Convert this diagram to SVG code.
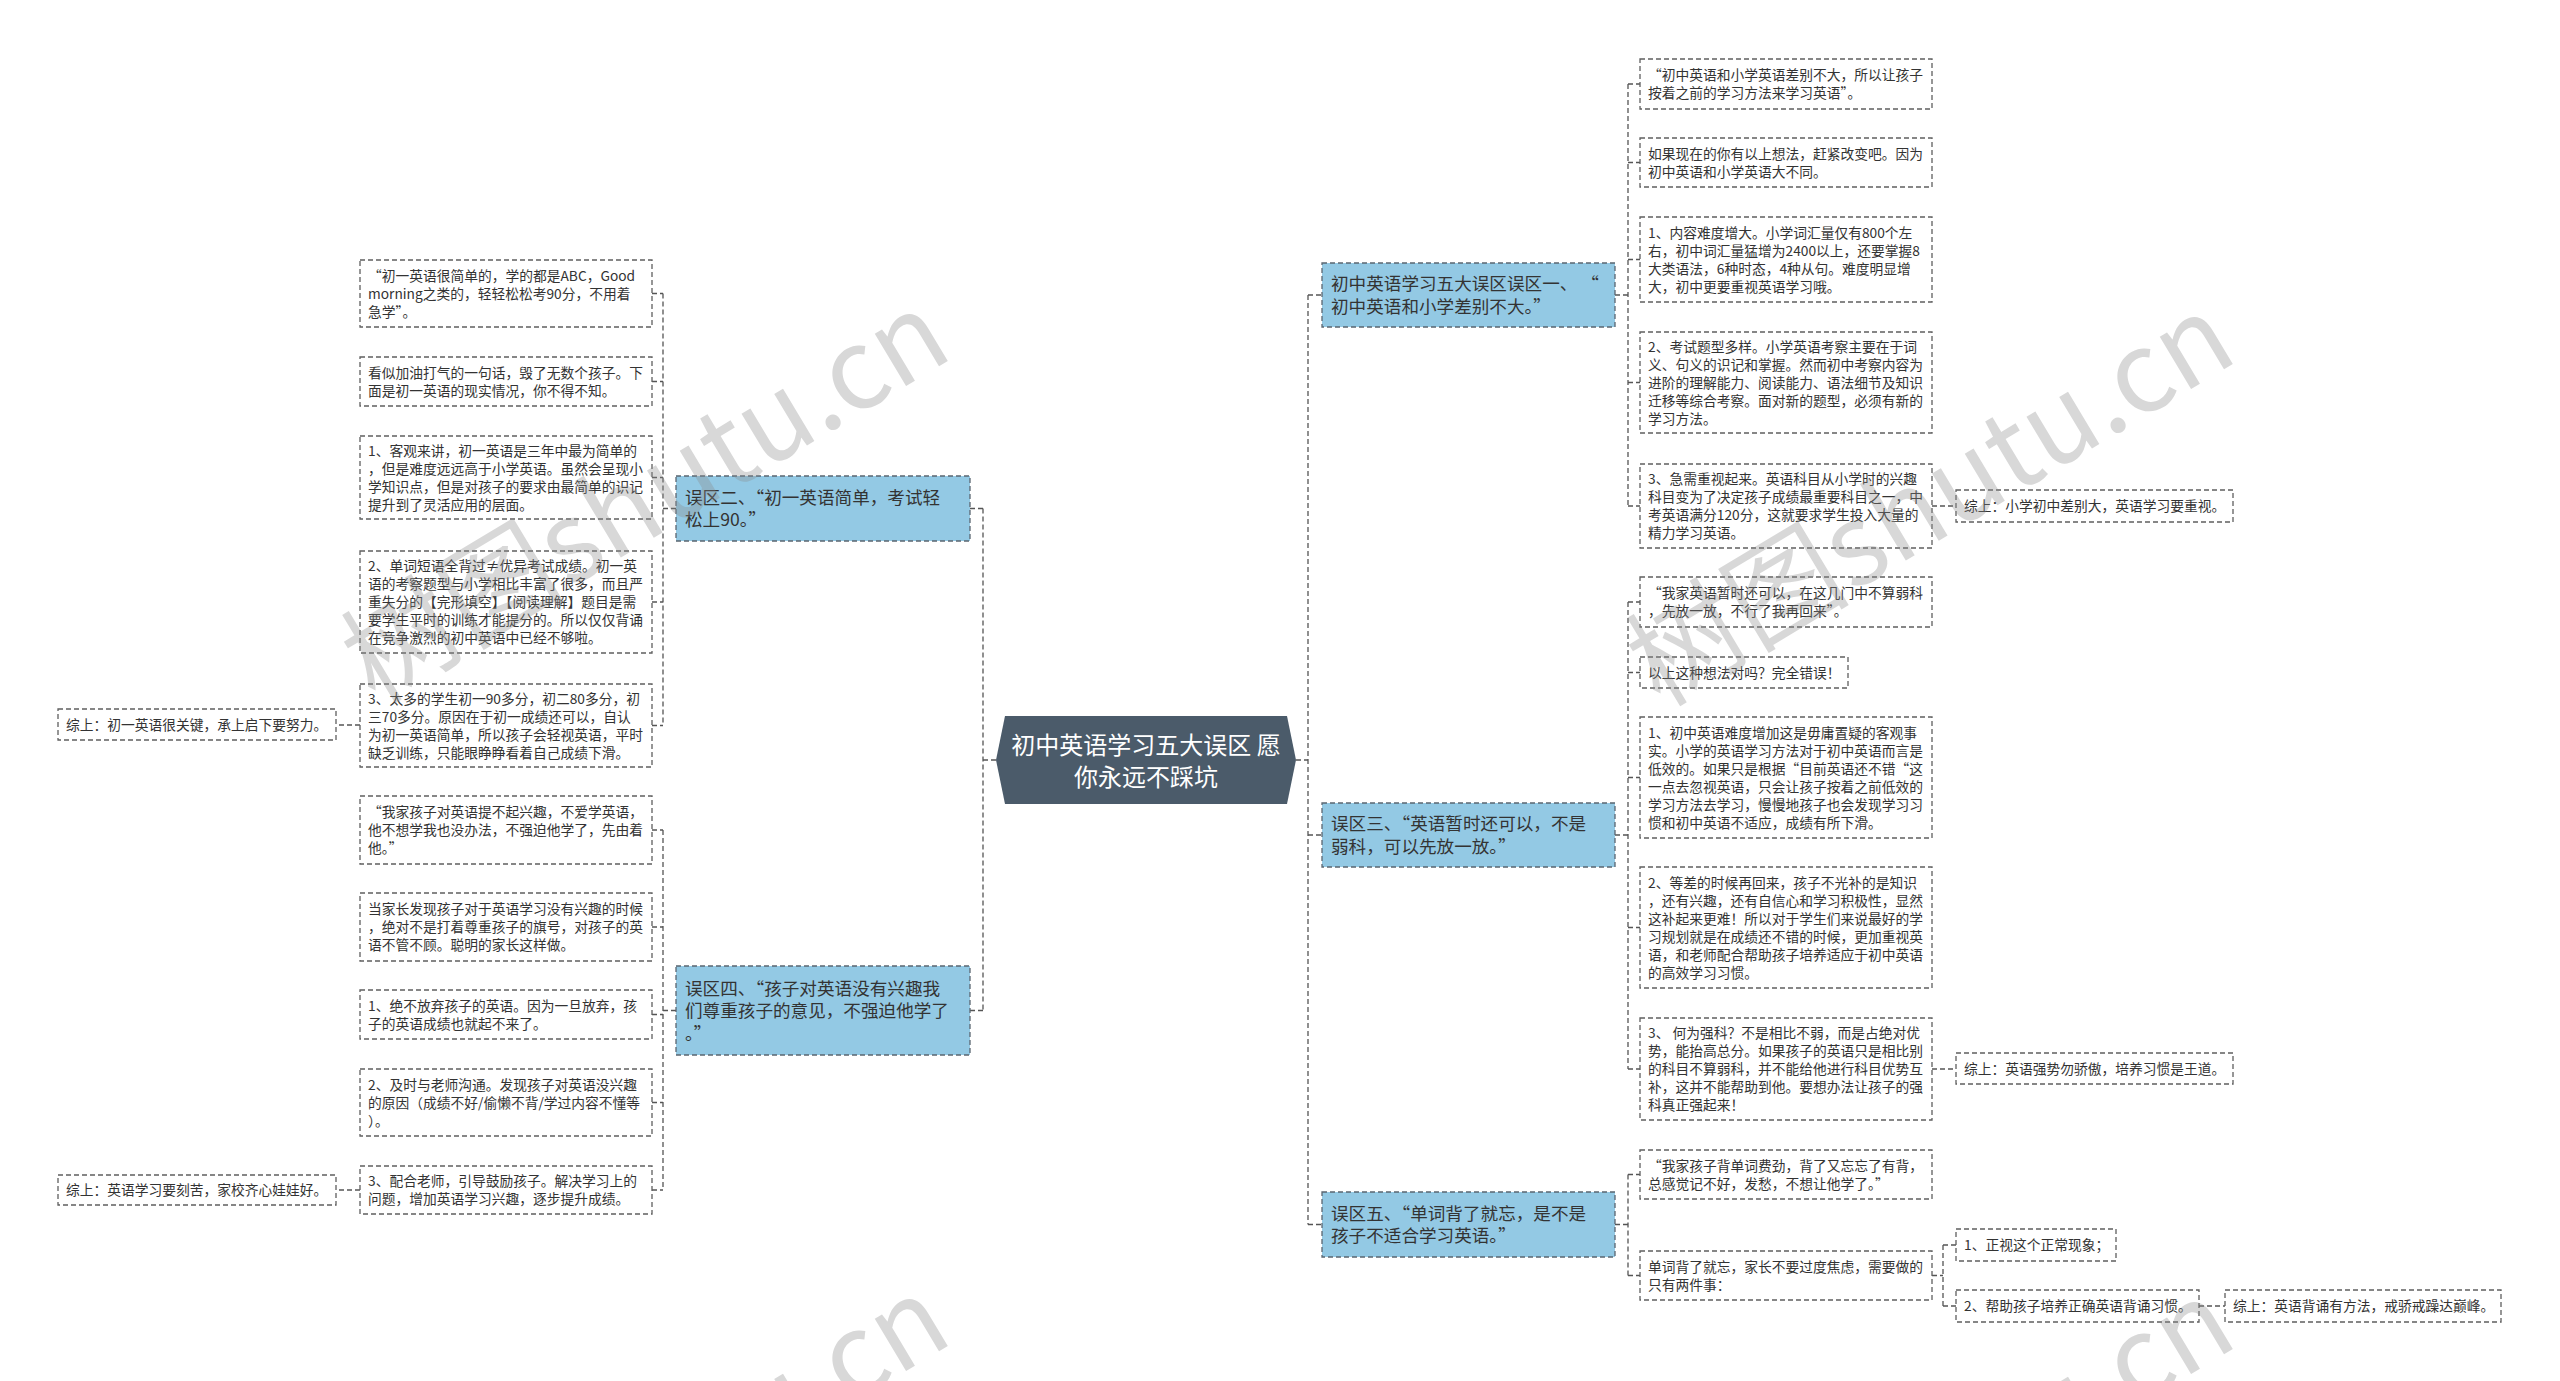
<svg xmlns="http://www.w3.org/2000/svg" width="2560" height="1381" viewBox="0 0 2560 1381">
<style>
.bg{fill:#ffffff}
.leaf rect{fill:#ffffff;stroke:#5f5f5f;stroke-width:1.3;stroke-dasharray:5 3}
.br rect{fill:#93c9e4;stroke:#5a6670;stroke-width:1.3;stroke-dasharray:5 3}
.t{font-family:"Noto Sans CJK SC","Microsoft YaHei",sans-serif;font-size:13.75px;fill:#333333}
.bt{font-family:"Noto Sans CJK SC","Microsoft YaHei",sans-serif;font-size:17.6px;fill:#333333}
.ct{font-family:"Noto Sans CJK SC","Microsoft YaHei",sans-serif;font-size:24px;fill:#ffffff;text-anchor:middle}
.conn path{fill:none;stroke:#555555;stroke-width:1.3;stroke-dasharray:5 3}
.wm{font-family:"Noto Sans CJK SC","Noto Sans",sans-serif;font-size:112px;fill:#8a8a8a;opacity:0.33}
</style>
<rect class="bg" x="0" y="0" width="2560" height="1381"/>

<g id="connectors" class="conn">
<path d="M996,760 H983 M983,508.5 V1010.5 M970,508.5 H983 M970,1010.5 H983"/>
<path d="M676,508.5 H663 M663,293.5 V725.5 M652,293.5 H663 M652,381.5 H663 M652,477.5 H663 M652,602 H663 M652,725.5 H663"/>
<path d="M676,1010.5 H663 M663,830 V1190 M652,830 H663 M652,927 H663 M652,1014.5 H663 M652,1102.5 H663 M652,1190 H663"/>
<path d="M360,725 H336 M360,1190 H336"/>
<path d="M1296,760 H1308 M1308,295 V1224.5 M1308,295 H1322 M1308,835 H1322 M1308,1224.5 H1322"/>
<path d="M1615,295 H1628 M1628,84 V506 M1628,84 H1640 M1628,162.5 H1640 M1628,259.5 H1640 M1628,382.5 H1640 M1628,506 H1640"/>
<path d="M1615,835 H1628 M1628,602 V1069 M1628,602 H1640 M1628,672.5 H1640 M1628,777.5 H1640 M1628,927.5 H1640 M1628,1069 H1640"/>
<path d="M1615,1224.5 H1628 M1628,1174.5 V1275.5 M1628,1174.5 H1640 M1628,1275.5 H1640"/>
<path d="M1932,506 H1956 M1932,1069 H1956"/>
<path d="M1932,1275.5 H1943 M1943,1245 V1306 M1943,1245 H1956 M1943,1306 H1956 M2199,1306 H2225"/>
</g>

<g id="center">
<polygon points="996,760 1005,716 1287,716 1296,760 1287,804 1005,804" fill="#4b5b6a"/>
<text class="ct"><tspan x="1146" y="753.5">初中英语学习五大误区 愿</tspan><tspan x="1146" y="785.5">你永远不踩坑</tspan></text>
</g>

<g id="b2" class="br">
<rect x="676" y="476" width="294" height="65"/>
<text class="bt"><tspan x="685" y="503.75">误区二、“初一英语简单，考试轻</tspan><tspan x="685" y="526.25">松上90。”</tspan></text>
</g>
<g id="b4" class="br">
<rect x="676" y="966" width="294" height="89"/>
<text class="bt"><tspan x="685" y="994.5">误区四、“孩子对英语没有兴趣我</tspan><tspan x="685" y="1017">们尊重孩子的意见，不强迫他学了</tspan><tspan x="685" y="1039.5">。”</tspan></text>
</g>
<g id="b1" class="br">
<rect x="1322" y="263" width="293" height="64"/>
<text class="bt"><tspan x="1331" y="290.25">初中英语学习五大误区误区一、 “</tspan><tspan x="1331" y="312.75">初中英语和小学差别不大。”</tspan></text>
</g>
<g id="b3" class="br">
<rect x="1322" y="803" width="293" height="64"/>
<text class="bt"><tspan x="1331" y="830.25">误区三、“英语暂时还可以，不是</tspan><tspan x="1331" y="852.75">弱科，可以先放一放。”</tspan></text>
</g>
<g id="b5" class="br">
<rect x="1322" y="1192" width="293" height="65"/>
<text class="bt"><tspan x="1331" y="1219.75">误区五、“单词背了就忘，是不是</tspan><tspan x="1331" y="1242.25">孩子不适合学习英语。”</tspan></text>
</g>

<g id="l1" class="leaf">
<rect x="360" y="260" width="292" height="67"/>
<text class="t"><tspan x="368" y="280.5">“初一英语很简单的，学的都是ABC，Good</tspan><tspan x="368" y="298.5">morning之类的，轻轻松松考90分，不用着</tspan><tspan x="368" y="316.5">急学”。</tspan></text>
</g>
<g id="l2" class="leaf">
<rect x="360" y="357" width="292" height="49"/>
<text class="t"><tspan x="368" y="377.5">看似加油打气的一句话，毁了无数个孩子。下</tspan><tspan x="368" y="395.5">面是初一英语的现实情况，你不得不知。</tspan></text>
</g>
<g id="l3" class="leaf">
<rect x="360" y="436" width="292" height="83"/>
<text class="t"><tspan x="368" y="455.5">1、客观来讲，初一英语是三年中最为简单的</tspan><tspan x="368" y="473.5">，但是难度远远高于小学英语。虽然会呈现小</tspan><tspan x="368" y="491.5">学知识点，但是对孩子的要求由最简单的识记</tspan><tspan x="368" y="509.5">提升到了灵活应用的层面。</tspan></text>
</g>
<g id="l4" class="leaf">
<rect x="360" y="551" width="292" height="102"/>
<text class="t"><tspan x="368" y="571">2、单词短语全背过≠优异考试成绩。初一英</tspan><tspan x="368" y="589">语的考察题型与小学相比丰富了很多，而且严</tspan><tspan x="368" y="607">重失分的【完形填空】【阅读理解】题目是需</tspan><tspan x="368" y="625">要学生平时的训练才能提分的。所以仅仅背诵</tspan><tspan x="368" y="643">在竞争激烈的初中英语中已经不够啦。</tspan></text>
</g>
<g id="l5" class="leaf">
<rect x="360" y="684" width="292" height="83"/>
<text class="t"><tspan x="368" y="703.5">3、太多的学生初一90多分，初二80多分，初</tspan><tspan x="368" y="721.5">三70多分。原因在于初一成绩还可以，自认</tspan><tspan x="368" y="739.5">为初一英语简单，所以孩子会轻视英语，平时</tspan><tspan x="368" y="757.5">缺乏训练，只能眼睁睁看着自己成绩下滑。</tspan></text>
</g>
<g id="s1" class="leaf">
<rect x="58" y="709" width="278" height="31"/>
<text class="t"><tspan x="66" y="729.5">综上：初一英语很关键，承上启下要努力。</tspan></text>
</g>
<g id="l6" class="leaf">
<rect x="360" y="796" width="292" height="68"/>
<text class="t"><tspan x="368" y="817">“我家孩子对英语提不起兴趣，不爱学英语，</tspan><tspan x="368" y="835">他不想学我也没办法，不强迫他学了，先由着</tspan><tspan x="368" y="853">他。”</tspan></text>
</g>
<g id="l7" class="leaf">
<rect x="360" y="893" width="292" height="68"/>
<text class="t"><tspan x="368" y="914">当家长发现孩子对于英语学习没有兴趣的时候</tspan><tspan x="368" y="932">，绝对不是打着尊重孩子的旗号，对孩子的英</tspan><tspan x="368" y="950">语不管不顾。聪明的家长这样做。</tspan></text>
</g>
<g id="l8" class="leaf">
<rect x="360" y="990" width="292" height="49"/>
<text class="t"><tspan x="368" y="1010.5">1、绝不放弃孩子的英语。因为一旦放弃，孩</tspan><tspan x="368" y="1028.5">子的英语成绩也就起不来了。</tspan></text>
</g>
<g id="l9" class="leaf">
<rect x="360" y="1069" width="292" height="67"/>
<text class="t"><tspan x="368" y="1089.5">2、及时与老师沟通。发现孩子对英语没兴趣</tspan><tspan x="368" y="1107.5">的原因（成绩不好/偷懒不背/学过内容不懂等</tspan><tspan x="368" y="1125.5">）。</tspan></text>
</g>
<g id="l10" class="leaf">
<rect x="360" y="1166" width="292" height="48"/>
<text class="t"><tspan x="368" y="1186">3、配合老师，引导鼓励孩子。解决学习上的</tspan><tspan x="368" y="1204">问题，增加英语学习兴趣，逐步提升成绩。</tspan></text>
</g>
<g id="s2" class="leaf">
<rect x="58" y="1175" width="278" height="30"/>
<text class="t"><tspan x="66" y="1195">综上：英语学习要刻苦，家校齐心娃娃好。</tspan></text>
</g>

<g id="r1" class="leaf">
<rect x="1640" y="59" width="292" height="50"/>
<text class="t"><tspan x="1648" y="80">“初中英语和小学英语差别不大，所以让孩子</tspan><tspan x="1648" y="98">按着之前的学习方法来学习英语”。</tspan></text>
</g>
<g id="r2" class="leaf">
<rect x="1640" y="138" width="292" height="49"/>
<text class="t"><tspan x="1648" y="158.5">如果现在的你有以上想法，赶紧改变吧。因为</tspan><tspan x="1648" y="176.5">初中英语和小学英语大不同。</tspan></text>
</g>
<g id="r3" class="leaf">
<rect x="1640" y="217" width="292" height="85"/>
<text class="t"><tspan x="1648" y="237.5">1、内容难度增大。小学词汇量仅有800个左</tspan><tspan x="1648" y="255.5">右，初中词汇量猛增为2400以上，还要掌握8</tspan><tspan x="1648" y="273.5">大类语法，6种时态，4种从句。难度明显增</tspan><tspan x="1648" y="291.5">大，初中更要重视英语学习哦。</tspan></text>
</g>
<g id="r4" class="leaf">
<rect x="1640" y="332" width="292" height="101"/>
<text class="t"><tspan x="1648" y="351.5">2、考试题型多样。小学英语考察主要在于词</tspan><tspan x="1648" y="369.5">义、句义的识记和掌握。然而初中考察内容为</tspan><tspan x="1648" y="387.5">进阶的理解能力、阅读能力、语法细节及知识</tspan><tspan x="1648" y="405.5">迁移等综合考察。面对新的题型，必须有新的</tspan><tspan x="1648" y="423.5">学习方法。</tspan></text>
</g>
<g id="r5" class="leaf">
<rect x="1640" y="464" width="292" height="84"/>
<text class="t"><tspan x="1648" y="484">3、急需重视起来。英语科目从小学时的兴趣</tspan><tspan x="1648" y="502">科目变为了决定孩子成绩最重要科目之一，中</tspan><tspan x="1648" y="520">考英语满分120分，这就要求学生投入大量的</tspan><tspan x="1648" y="538">精力学习英语。</tspan></text>
</g>
<g id="rs1" class="leaf">
<rect x="1956" y="490" width="277" height="32"/>
<text class="t"><tspan x="1964" y="511">综上：小学初中差别大，英语学习要重视。</tspan></text>
</g>
<g id="r6" class="leaf">
<rect x="1640" y="577" width="292" height="50"/>
<text class="t"><tspan x="1648" y="598">“我家英语暂时还可以，在这几门中不算弱科</tspan><tspan x="1648" y="616">，先放一放，不行了我再回来”。</tspan></text>
</g>
<g id="r7" class="leaf">
<rect x="1640" y="657" width="208" height="31"/>
<text class="t"><tspan x="1648" y="677.5">以上这种想法对吗？完全错误！</tspan></text>
</g>
<g id="r8" class="leaf">
<rect x="1640" y="717" width="292" height="121"/>
<text class="t"><tspan x="1648" y="737.5">1、初中英语难度增加这是毋庸置疑的客观事</tspan><tspan x="1648" y="755.5">实。小学的英语学习方法对于初中英语而言是</tspan><tspan x="1648" y="773.5">低效的。如果只是根据“目前英语还不错“这</tspan><tspan x="1648" y="791.5">一点去忽视英语，只会让孩子按着之前低效的</tspan><tspan x="1648" y="809.5">学习方法去学习，慢慢地孩子也会发现学习习</tspan><tspan x="1648" y="827.5">惯和初中英语不适应，成绩有所下滑。</tspan></text>
</g>
<g id="r9" class="leaf">
<rect x="1640" y="867" width="292" height="121"/>
<text class="t"><tspan x="1648" y="887.5">2、等差的时候再回来，孩子不光补的是知识</tspan><tspan x="1648" y="905.5">，还有兴趣，还有自信心和学习积极性，显然</tspan><tspan x="1648" y="923.5">这补起来更难！所以对于学生们来说最好的学</tspan><tspan x="1648" y="941.5">习规划就是在成绩还不错的时候，更加重视英</tspan><tspan x="1648" y="959.5">语，和老师配合帮助孩子培养适应于初中英语</tspan><tspan x="1648" y="977.5">的高效学习习惯。</tspan></text>
</g>
<g id="r10" class="leaf">
<rect x="1640" y="1018" width="292" height="102"/>
<text class="t"><tspan x="1648" y="1038">3、 何为强科？不是相比不弱，而是占绝对优</tspan><tspan x="1648" y="1056">势，能抬高总分。如果孩子的英语只是相比别</tspan><tspan x="1648" y="1074">的科目不算弱科，并不能给他进行科目优势互</tspan><tspan x="1648" y="1092">补，这并不能帮助到他。要想办法让孩子的强</tspan><tspan x="1648" y="1110">科真正强起来！</tspan></text>
</g>
<g id="rs2" class="leaf">
<rect x="1956" y="1053" width="277" height="31"/>
<text class="t"><tspan x="1964" y="1073.5">综上：英语强势勿骄傲，培养习惯是王道。</tspan></text>
</g>
<g id="r11" class="leaf">
<rect x="1640" y="1150" width="292" height="49"/>
<text class="t"><tspan x="1648" y="1170.5">“我家孩子背单词费劲，背了又忘忘了有背，</tspan><tspan x="1648" y="1188.5">总感觉记不好，发愁，不想让他学了。”</tspan></text>
</g>
<g id="r12" class="leaf">
<rect x="1640" y="1251" width="292" height="49"/>
<text class="t"><tspan x="1648" y="1271.5">单词背了就忘，家长不要过度焦虑，需要做的</tspan><tspan x="1648" y="1289.5">只有两件事：</tspan></text>
</g>
<g id="r12a" class="leaf">
<rect x="1956" y="1229" width="160" height="32"/>
<text class="t"><tspan x="1964" y="1250">1、正视这个正常现象；</tspan></text>
</g>
<g id="r12b" class="leaf">
<rect x="1956" y="1290" width="243" height="32"/>
<text class="t"><tspan x="1964" y="1311">2、帮助孩子培养正确英语背诵习惯。</tspan></text>
</g>
<g id="rs3" class="leaf">
<rect x="2225" y="1290" width="276" height="32"/>
<text class="t"><tspan x="2233" y="1311">综上：英语背诵有方法，戒骄戒躁达巅峰。</tspan></text>
</g>

<g id="watermark">
<text class="wm" transform="translate(375,705) rotate(-31)">树图shutu.cn</text>
<text class="wm" transform="translate(1660,708) rotate(-31)">树图shutu.cn</text>
<text class="wm" transform="translate(375,1690) rotate(-31)">树图shutu.cn</text>
<text class="wm" transform="translate(1660,1693) rotate(-31)">树图shutu.cn</text>
</g>
</svg>
